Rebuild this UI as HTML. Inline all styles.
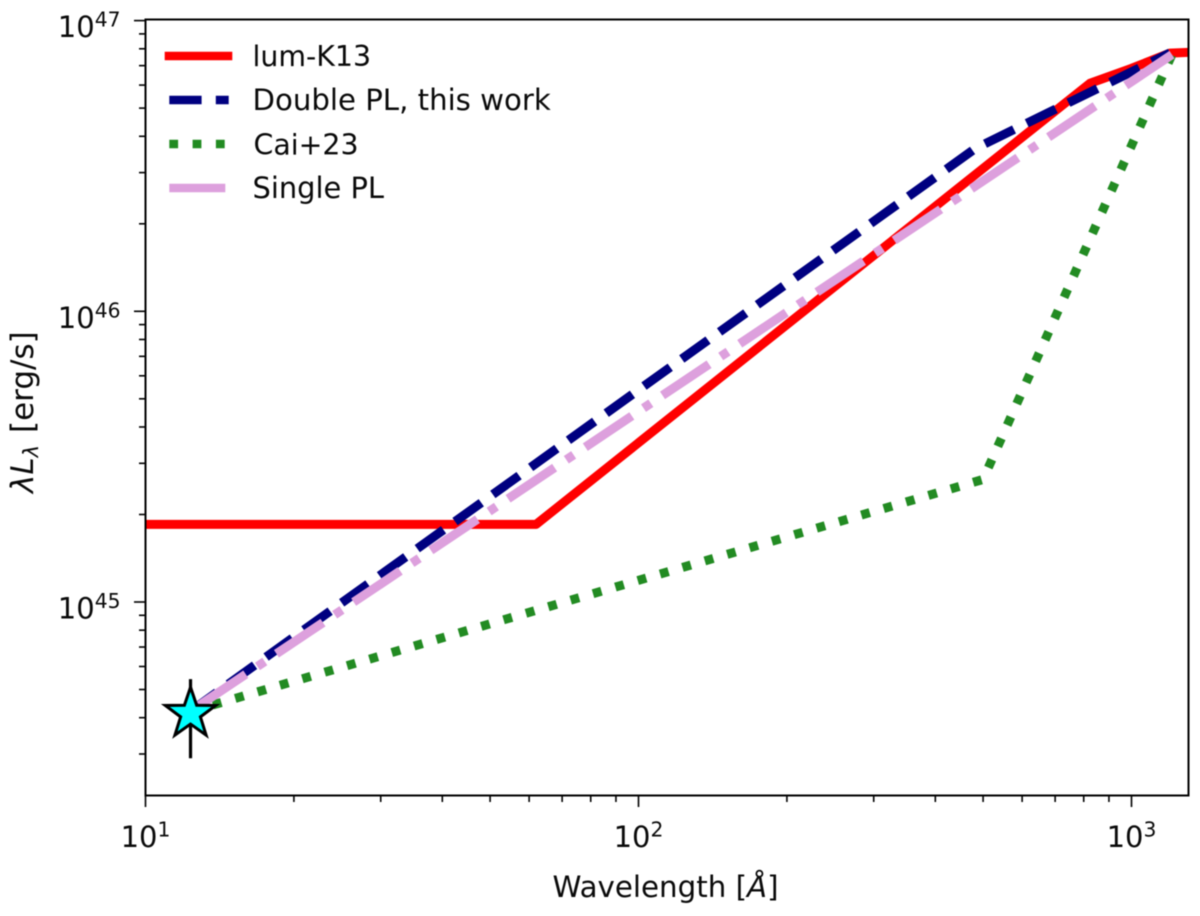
<!DOCTYPE html>
<html lang="en">
<head>
<meta charset="utf-8">
<title>Luminosity vs wavelength</title>
<style>
html,body{margin:0;padding:0;background:#fff;width:1200px;height:916px;overflow:hidden}
svg{display:block;filter:blur(0.5px)}
text{font-family:"DejaVu Sans","Liberation Sans",sans-serif;fill:#0a0a0a;font-size:29px}
</style>
</head>
<body>
<svg id="chart" xmlns="http://www.w3.org/2000/svg" width="1200" height="916" viewBox="0 0 1200 916">
  <defs>
    <clipPath id="plot-clip"><rect x="145.5" y="19.5" width="1043" height="776"></rect></clipPath>
  </defs>
  <rect x="0" y="0" width="1200" height="916" fill="#fff"></rect>
  <g id="series" clip-path="url(#plot-clip)"></g>
  <g id="marker"></g>
  <g id="axes"></g>
  <rect x="145.5" y="19.5" width="1043" height="776" fill="none" stroke="#000" stroke-width="2"></rect>

  <text x="665.5" y="897" text-anchor="middle" style="font-size:29.3px">Wavelength [<tspan font-style="italic">Å</tspan>]</text>
  <text transform="translate(33 493) rotate(-90)" style="font-size:31px"><tspan font-style="italic">λL</tspan><tspan font-style="italic" font-size="21" dy="5.5">λ</tspan><tspan x="60" dy="-5.5">[erg/s]</tspan></text>

  <g>
    <line x1="169" y1="56" x2="228" y2="56" stroke="#ff0000" stroke-width="8.6" stroke-linecap="square"></line>
    <text x="252.5" y="66" style="font-size:28.4px">lum-K13</text>
    <line x1="169.3" y1="100" x2="228.7" y2="100" stroke="#000080" stroke-width="8.6" stroke-dasharray="32.3 14.2"></line>
    <text x="252.5" y="110" style="font-size:29.2px">Double PL, this work</text>
    <line x1="169.3" y1="144" x2="228.7" y2="144" stroke="#228b22" stroke-width="8.6" stroke-dasharray="8.8 14.5"></line>
    <text x="253.5" y="154.3" style="font-size:28.4px">Cai+23</text>
    <line x1="169.3" y1="188" x2="226" y2="188" stroke="#dda0dd" stroke-width="8.6" stroke-dasharray="56 14 8.8 14"></line>
    <text x="252.5" y="198" style="font-size:28.9px">Single PL</text>
  </g>
</svg>
<script>
// Chart data
const lumK13Wavelength = [10, 62, 824, 1000, 1197, 1320];
const lumK13Luminosity = [1.85e45, 1.85e45, 6.09e46, 6.85e46, 7.73e46, 7.78e46];
const doublePlWavelength = [12.34, 482, 1197];
const doublePlLuminosity = [4.21e44, 3.63e46, 7.74e46];
const cai23Wavelength = [12.34, 500, 1208];
const cai23Luminosity = [4.2e44, 2.64e45, 7.64e46];
const singlePlWavelength = [12.34, 1208];
const singlePlLuminosity = [4.21e44, 7.64e46];
const starWavelength = [12.34];
const starLuminosity = [4.13e44];
const starLimitLow = [2.9e44];
const starLimitHigh = [5.43e44];
const xMajorTicks = [10, 100, 1000];
const xMajorExponents = ['1', '2', '3'];
const xMinorTicks = [20, 30, 40, 50, 60, 70, 80, 90, 200, 300, 400, 500, 600, 700, 800, 900];
const yMajorTicks = [1e45, 1e46, 1e47];
const yMajorExponents = ['45', '46', '47'];
const yMinorTicks = [3e44, 4e44, 5e44, 6e44, 7e44, 8e44, 9e44, 2e45, 3e45, 4e45, 5e45, 6e45, 7e45, 8e45, 9e45, 2e46, 3e46, 4e46, 5e46, 6e46, 7e46, 8e46, 9e46];

const NS = 'http://www.w3.org/2000/svg';
function xScale(v) { return 145.5 + (Math.log10(v) - 1) * 493; }
function yScale(v) { return 602 - (Math.log10(v) - 45) * 290.7; }
function pathFrom(xs, ys) {
  return xs.map(function (x, i) { return (i ? 'L' : 'M') + xScale(x).toFixed(2) + ' ' + yScale(ys[i]).toFixed(2); }).join(' ');
}

const seriesGroup = document.getElementById('series');
const markerGroup = document.getElementById('marker');
const axesGroup = document.getElementById('axes');

function addSeries(name, xs, ys, color, dash, offset) {
  const p = document.createElementNS(NS, 'path');
  
  
  p.setAttribute('d', pathFrom(xs, ys));
  p.setAttribute('fill', 'none');
  p.setAttribute('stroke', color);
  p.setAttribute('stroke-width', '9');
  p.setAttribute('stroke-linejoin', 'round');
  if (dash) p.setAttribute('stroke-dasharray', dash);
  if (offset) p.setAttribute('stroke-dashoffset', offset);
  seriesGroup.appendChild(p);
}
addSeries('series-lum-k13', lumK13Wavelength, lumK13Luminosity, '#ff0000', null, 0);
addSeries('series-double-pl', doublePlWavelength, doublePlLuminosity, '#000080', '32.3 14.2', 0);
addSeries('series-cai23', cai23Wavelength, cai23Luminosity, '#228b22', '8.8 14.5', 0);
addSeries('series-single-pl', singlePlWavelength, singlePlLuminosity, '#dda0dd', '56 14.05 8.8 14.05', -10.5);

// Limit bar and star marker
const limitBar = document.createElementNS(NS, 'line');


limitBar.setAttribute('x1', xScale(starWavelength[0]));
limitBar.setAttribute('x2', xScale(starWavelength[0]));
limitBar.setAttribute('y1', yScale(starLimitLow[0]));
limitBar.setAttribute('y2', yScale(starLimitHigh[0]));
limitBar.setAttribute('stroke', '#000');
limitBar.setAttribute('stroke-width', '3.2');
markerGroup.appendChild(limitBar);

const star = document.createElementNS(NS, 'polygon');
const starCx = xScale(starWavelength[0]);
const starCy = yScale(starLuminosity[0]);
const starPts = [];
for (let i = 0; i < 10; i++) {
  const r = i % 2 === 0 ? 26.5 : 10.4;
  const a = -Math.PI / 2 + i * Math.PI / 5;
  starPts.push((starCx + r * Math.cos(a)).toFixed(2) + ',' + (starCy + r * Math.sin(a)).toFixed(2));
}


star.setAttribute('points', starPts.join(' '));
star.setAttribute('fill', '#00ffff');
star.setAttribute('stroke', '#000');
star.setAttribute('stroke-width', '3');
star.setAttribute('stroke-linejoin', 'miter');
markerGroup.appendChild(star);

function addTick(name, x1, y1, x2, y2) {
  const t = document.createElementNS(NS, 'line');
  
  
  t.setAttribute('x1', x1);
  t.setAttribute('y1', y1);
  t.setAttribute('x2', x2);
  t.setAttribute('y2', y2);
  t.setAttribute('stroke', '#000');
  t.setAttribute('stroke-width', '1.6');
  axesGroup.appendChild(t);
}
function addPowerLabel(name, x, y, anchor, exponent) {
  const t = document.createElementNS(NS, 'text');
  
  
  t.setAttribute('x', x);
  t.setAttribute('y', y);
  t.setAttribute('text-anchor', anchor);
  t.appendChild(document.createTextNode('10'));
  const s = document.createElementNS(NS, 'tspan');
  s.setAttribute('font-size', '20.3');
  s.setAttribute('dy', '-10.5');
  s.textContent = exponent;
  t.appendChild(s);
  axesGroup.appendChild(t);
}

xMajorTicks.forEach(function (v, i) {
  addTick('x-major-tick', xScale(v), 795.5, xScale(v), 807);
  addPowerLabel('x-tick-label', xScale(v), 847, 'middle', xMajorExponents[i]);
});
xMinorTicks.forEach(function (v) {
  addTick('x-minor-tick', xScale(v), 795.5, xScale(v), 802);
});
yMajorTicks.forEach(function (v, i) {
  addTick('y-major-tick', 134, yScale(v), 145.5, yScale(v));
  addPowerLabel('y-tick-label', 120.5, yScale(v) + 16.5, 'end', yMajorExponents[i]);
});
yMinorTicks.forEach(function (v) {
  addTick('y-minor-tick', 139, yScale(v), 145.5, yScale(v));
});
</script>
</body>
</html>
